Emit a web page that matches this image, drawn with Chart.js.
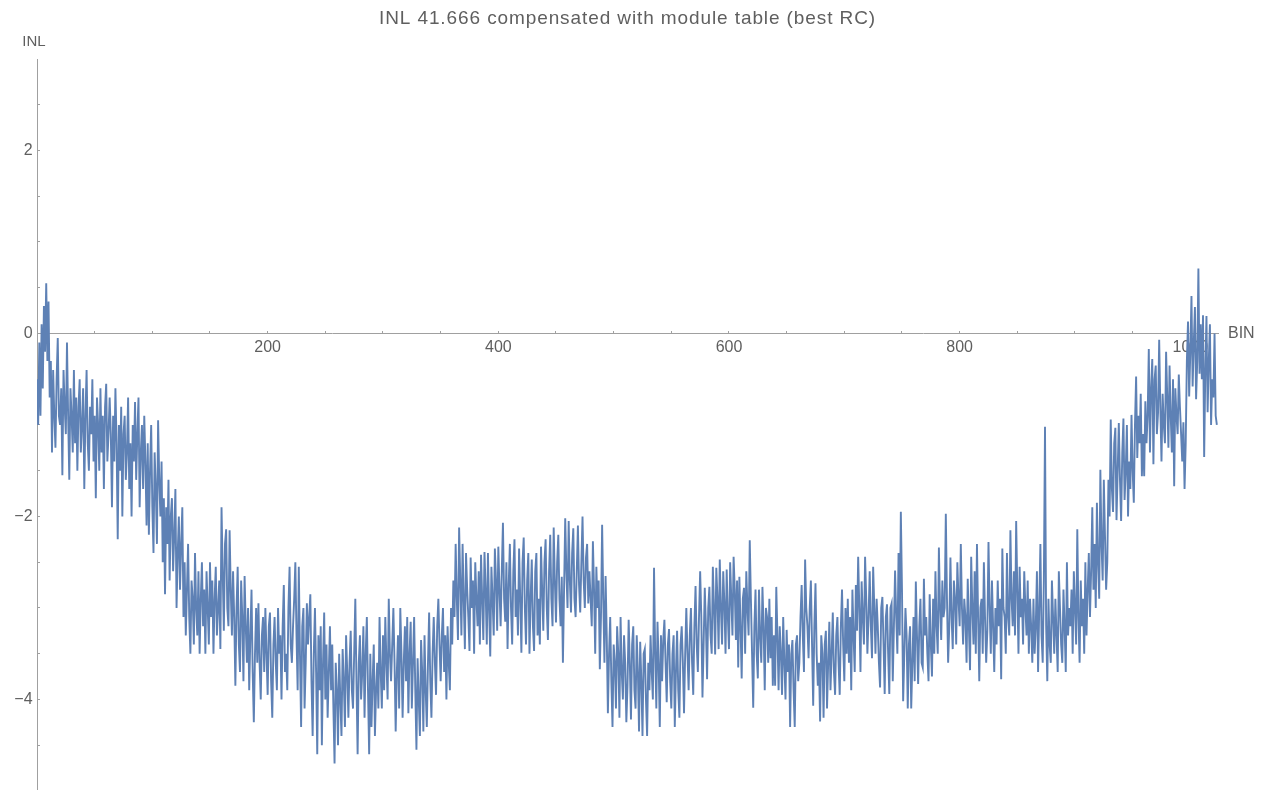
<!DOCTYPE html>
<html>
<head>
<meta charset="utf-8">
<script src="https://cdn.jsdelivr.net/npm/chart.js@4.4.1/dist/chart.umd.min.js"></script>
<style>
  html, body { margin: 0; padding: 0; background: #fff; }
  #wrap { width: 1266px; height: 790px; }
</style>
</head>
<body>
<div id="wrap"><canvas id="inlChart" width="1266" height="790"></canvas></div>
<script>
// Подписи и оси
const titleText = 'INL 41.666 compensated with module table (best RC)';
const xAxisName = 'BIN';
const yAxisName = 'INL';

// Деления осей
const xTickValues = [50, 100, 150, 200, 250, 300, 350, 400, 450, 500, 550, 600, 650, 700, 750, 800, 850, 900, 950, 1000];
const xTickLabels = [200, 400, 600, 800, 1000];
const yTickValues = [-4.5, -4, -3.5, -3, -2.5, -2, -1.5, -1, -0.5, 0, 0.5, 1, 1.5, 2, 2.5];
const yTickLabels = [-4, -2, 0, 2];

// INL по бинам 0..1023
const inlValues = [
  -0.5,-1.0,-0.1,-0.9,0.1,-0.6,0.3,-0.2,0.55,-0.3,0.35,-0.7,-0.3,-1.3,-0.4,-0.9,
  -1.25,-0.5,-0.05,-0.9,-1.0,-0.6,-1.55,-0.4,-0.8,-1.1,-0.1,-0.9,-1.6,-0.6,-0.9,-1.3,
  -0.4,-1.2,-0.7,-1.5,-0.8,-0.5,-1.3,-1.0,-0.6,-1.7,-0.9,-0.4,-1.2,-1.5,-0.8,-1.1,
  -0.5,-1.4,-0.9,-1.8,-0.7,-1.0,-1.5,-0.6,-1.3,-0.9,-1.7,-0.8,-0.55,-1.4,-1.1,-0.7,
  -1.1,-1.9,-0.9,-1.4,-0.6,-1.2,-2.25,-1.0,-1.5,-0.8,-2.0,-1.1,-0.9,-1.6,-1.3,-0.7,
  -1.7,-1.2,-2.0,-1.0,-1.4,-0.75,-1.6,-1.1,-0.7,-1.9,-1.3,-1.0,-1.7,-0.9,-1.4,-2.1,
  -1.2,-2.2,-1.5,-1.0,-1.9,-2.4,-1.3,-1.7,-2.3,-0.95,-1.6,-2.0,-1.4,-2.5,-1.8,-2.85,
  -1.9,-2.3,-1.6,-2.7,-2.0,-1.8,-2.6,-2.2,-1.7,-3.0,-2.4,-2.0,-2.8,-2.3,-1.9,-3.1,
  -2.5,-3.3,-2.8,-2.3,-3.1,-3.5,-2.7,-2.9,-3.4,-2.4,-3.0,-3.3,-2.6,-3.5,-2.9,-2.5,
  -3.2,-2.8,-3.5,-2.6,-3.0,-3.4,-2.5,-3.1,-2.7,-3.5,-2.9,-2.55,-3.3,-3.0,-2.7,-3.45,
  -1.9,-2.6,-3.25,-2.3,-2.14,-3.0,-3.2,-2.15,-2.8,-3.3,-2.6,-3.1,-3.85,-3.0,-2.55,-3.4,
  -3.7,-2.7,-3.1,-3.8,-2.65,-3.2,-3.6,-3.0,-3.9,-3.3,-2.8,-3.7,-4.25,-3.5,-3.0,-3.6,
  -2.95,-3.6,-4.0,-3.3,-3.1,-3.7,-3.0,-3.5,-3.95,-3.2,-3.05,-3.8,-4.2,-3.4,-3.1,-3.6,
  -3.9,-3.0,-3.5,-3.3,-4.0,-3.2,-2.75,-3.7,-3.5,-3.9,-3.0,-2.55,-3.4,-3.6,-3.2,-2.9,
  -2.5,-3.3,-3.9,-2.55,-3.5,-4.3,-3.2,-3.0,-4.1,-3.6,-2.95,-3.4,-3.1,-2.85,-3.8,-4.4,
  -3.5,-3.0,-3.7,-4.6,-3.3,-3.9,-3.2,-4.5,-3.6,-3.05,-4.0,-3.4,-4.2,-3.7,-3.2,-3.9,
  -3.4,-4.1,-4.7,-3.6,-3.9,-4.5,-3.5,-4.0,-4.4,-3.45,-3.8,-4.3,-3.3,-3.7,-4.2,-3.6,
  -3.25,-3.9,-4.1,-3.5,-2.9,-3.8,-4.6,-3.6,-3.3,-4.0,-3.7,-3.2,-4.2,-3.5,-3.1,-3.9,
  -4.6,-3.5,-4.3,-3.8,-3.4,-4.4,-3.9,-3.6,-4.1,-3.1,-3.7,-4.1,-3.3,-3.9,-3.1,-3.6,
  -4.0,-2.9,-3.5,-3.8,-3.4,-3.0,-3.6,-4.35,-3.7,-3.3,-4.1,-3.0,-3.5,-4.2,-3.6,-3.2,
  -3.8,-3.1,-4.15,-3.5,-3.15,-4.1,-3.6,-3.1,-3.9,-4.55,-3.55,-4.0,-4.4,-3.35,-3.7,-4.35,
  -3.3,-3.9,-4.3,-3.6,-3.05,-3.8,-4.2,-3.5,-3.1,-3.6,-3.95,-3.2,-2.9,-3.4,-3.8,-3.3,
  -3.0,-3.7,-3.3,-4.0,-3.2,-3.6,-3.9,-3.0,-3.4,-2.7,-3.1,-2.3,-2.9,-3.35,-2.12,-2.7,
  -3.3,-2.3,-2.9,-3.45,-2.4,-2.8,-3.1,-3.47,-2.45,-3.0,-2.7,-3.5,-2.5,-2.9,-3.2,-2.6,
  -3.4,-2.42,-2.9,-3.35,-2.39,-2.8,-3.4,-2.4,-3.0,-3.53,-2.55,-2.9,-3.3,-2.35,-2.7,-3.25,
  -2.33,-2.8,-3.2,-2.6,-2.07,-2.9,-3.15,-2.5,-3.45,-2.75,-2.3,-3.0,-3.4,-2.6,-2.25,-3.1,
  -2.8,-3.3,-2.35,-2.9,-3.49,-2.5,-2.23,-3.0,-3.4,-2.7,-2.4,-3.5,-2.9,-2.47,-3.2,-3.47,
  -2.6,-2.4,-3.3,-2.9,-3.4,-2.33,-2.8,-3.25,-2.5,-2.25,-3.0,-3.35,-2.6,-2.2,-2.9,-3.2,
  -2.12,-2.7,-3.16,-2.5,-2.2,-2.9,-3.2,-2.66,-3.6,-2.8,-2.02,-2.6,-3.0,-2.05,-2.7,-3.05,
  -2.4,-2.13,-2.9,-3.1,-2.6,-2.1,-2.75,-3.05,-2.5,-2.0,-2.7,-3.0,-2.45,-2.3,-2.95,-2.6,
  -2.9,-3.2,-2.27,-2.8,-3.5,-2.55,-3.0,-2.7,-3.67,-3.1,-2.09,-2.9,-3.6,-2.65,-3.3,-4.15,
  -3.5,-3.1,-3.8,-4.3,-3.4,-3.6,-4.1,-3.2,-3.5,-4.2,-3.1,-3.7,-4.0,-3.3,-3.6,-4.25,
  -3.85,-3.13,-3.6,-4.22,-3.4,-3.2,-3.9,-4.1,-3.3,-3.7,-4.35,-3.37,-3.8,-4.4,-3.5,-3.45,
  -4.0,-4.4,-3.6,-3.9,-3.3,-3.7,-4.0,-2.56,-3.5,-4.1,-3.15,-3.6,-4.3,-3.3,-3.8,-3.35,
  -3.13,-3.6,-4.03,-3.4,-3.23,-3.8,-4.1,-3.5,-3.3,-4.3,-3.7,-3.25,-3.9,-4.2,-3.4,-3.2,
  -3.6,-4.15,-3.5,-3.0,-3.5,-3.9,-3.3,-3.0,-3.6,-3.95,-3.2,-2.76,-3.4,-3.7,-3.1,-2.6,
  -3.1,-3.98,-3.4,-2.78,-3.2,-3.78,-3.0,-2.77,-3.3,-3.5,-2.55,-3.0,-3.51,-2.56,-2.9,-3.45,
  -2.47,-3.0,-3.4,-2.6,-2.95,-3.5,-2.58,-3.1,-3.45,-2.5,-2.9,-3.3,-2.44,-2.8,-3.35,-2.7,
  -3.65,-2.66,-3.2,-3.77,-2.9,-2.78,-3.5,-2.6,-3.0,-3.3,-2.26,-2.9,-3.5,-4.09,-3.2,-2.8,
  -3.5,-3.77,-2.8,-3.3,-3.6,-2.77,-3.2,-3.9,-3.0,-3.1,-3.6,-2.9,-3.55,-3.1,-3.85,-3.3,
  -3.85,-2.77,-3.3,-3.9,-3.2,-3.5,-3.95,-3.1,-3.6,-4.0,-3.24,-3.7,-3.4,-4.3,-3.5,-3.35,
  -3.9,-4.3,-3.4,-3.3,-3.8,-3.6,-3.1,-2.75,-3.3,-3.7,-2.47,-3.0,-3.2,-3.55,-3.0,-2.7,
  -3.4,-4.07,-3.2,-2.73,-3.5,-3.85,-3.6,-4.24,-3.3,-3.5,-4.2,-3.4,-3.25,-4.1,-3.6,-3.15,
  -3.9,-3.5,-3.05,-3.7,-3.95,-3.3,-3.1,-3.6,-3.95,-3.2,-2.8,-3.4,-3.8,-3.0,-3.5,-2.9,
  -3.6,-3.1,-3.9,-2.8,-3.3,-3.7,-2.75,-3.25,-2.44,-3.0,-3.7,-2.71,-3.1,-3.4,-2.44,-2.9,
  -3.5,-3.1,-2.6,-3.2,-3.55,-2.55,-3.0,-3.5,-2.9,-3.2,-3.6,-3.87,-3.0,-2.88,-3.4,-3.94,
  -3.1,-2.96,-3.5,-3.94,-3.0,-2.95,-3.8,-3.2,-2.59,-3.1,-3.5,-2.4,-3.3,-1.95,-2.8,-4.02,
  -3.5,-3.0,-3.3,-4.1,-3.4,-3.2,-4.1,-3.6,-3.1,-3.8,-2.71,-3.3,-3.83,-3.2,-2.9,-3.6,
  -3.65,-2.68,-3.3,-3.1,-3.5,-3.8,-2.85,-3.4,-3.75,-2.9,-3.5,-2.6,-3.2,-3.5,-2.34,-3.0,
  -3.35,-2.7,-3.1,-3.0,-1.97,-2.9,-3.6,-3.2,-2.45,-3.1,-3.45,-2.7,-2.9,-3.4,-2.5,-2.9,
  -3.2,-2.3,-3.0,-3.4,-2.9,-3.1,-3.6,-2.68,-3.2,-3.68,-2.44,-3.0,-3.4,-2.6,-3.5,-2.3,
  -3.1,-3.8,-3.0,-2.9,-3.5,-2.5,-3.1,-3.6,-3.25,-2.28,-3.0,-3.5,-2.7,-3.2,-3.7,-3.0,
  -3.4,-2.7,-3.2,-2.9,-3.78,-2.35,-3.0,-3.1,-3.5,-2.4,-3.1,-3.3,-2.15,-2.9,-3.2,-2.6,
  -3.3,-2.05,-2.8,-3.5,-2.55,-3.1,-2.9,-3.4,-2.6,-3.0,-3.3,-2.7,-3.5,-2.9,-3.2,-3.6,
  -2.9,-3.5,-3.2,-2.6,-3.7,-3.0,-2.3,-3.3,-3.6,-2.7,-1.02,-3.2,-3.8,-2.9,-3.4,-3.6,
  -2.7,-3.1,-3.5,-2.9,-3.3,-3.7,-2.6,-3.0,-3.4,-3.6,-2.8,-3.2,-3.7,-2.5,-3.3,-3.0,
  -3.2,-2.8,-3.5,-2.6,-3.0,-3.4,-2.14,-3.1,-3.6,-2.7,-3.2,-2.9,-3.5,-2.5,-3.3,-2.8,
  -2.4,-3.1,-2.6,-1.9,-2.8,-2.3,-3.0,-1.85,-2.5,-2.9,-1.49,-2.3,-2.7,-1.6,-2.2,-2.8,
  -2.5,-1.6,-2.0,-0.94,-1.7,-1.95,-1.2,-1.03,-2.04,-1.5,-0.98,-1.6,-2.05,-1.3,-0.93,-1.82,
  -1.5,-1.0,-2.0,-1.4,-1.7,-0.89,-1.5,-1.85,-1.0,-0.47,-1.36,-0.9,-1.2,-0.66,-1.56,-1.1,
  -1.56,-0.74,-1.2,-0.9,-0.17,-1.3,-0.6,-0.28,-1.43,-0.5,-0.35,-1.1,-0.87,-0.07,-0.8,-1.4,
  -0.66,-1.0,-1.2,-0.2,-0.7,-1.25,-0.35,-0.9,-1.3,-0.5,-1.67,-0.6,-0.9,-1.1,-0.45,-0.8,
  -1.1,-1.4,-0.97,-1.7,-1.2,-0.3,0.13,-0.69,-0.2,0.41,-0.58,-0.1,0.29,-0.72,-0.3,0.71,
  -0.44,0.1,-0.5,0.2,-1.35,-0.4,0.19,-0.86,-0.3,0.1,-1.0,-0.5,-0.7,0.0,-0.9,-1.0
];

const axisColor = '#a0a0a0';
const textColor = '#5f5f5f';
const lineColor = '#5e81b5';
const fontFamily = '"Liberation Sans", Arial, sans-serif';

function fmtNum(v) {
    return v < 0 ? '\u2212' + Math.abs(v) : String(v);
}

// Подписи: заголовок и имена осей
const labelsPlugin = {
    id: 'mmaLabels',
    afterDraw(chart) {
        const ctx = chart.ctx;
        const area = chart.chartArea;
        const xs = chart.scales.x;
        const ys = chart.scales.y;
        ctx.save();
        ctx.fillStyle = textColor;
        ctx.textBaseline = 'middle';
        ctx.font = '19px ' + fontFamily;
        ctx.letterSpacing = '0.9px';
        ctx.textAlign = 'center';
        ctx.fillText(titleText, (area.left + area.right) / 2, 19);
        ctx.letterSpacing = '0px';
        ctx.font = '15px ' + fontFamily;
        ctx.textAlign = 'center';
        ctx.fillText(yAxisName, xs.getPixelForValue(0) - 3, 42);
        ctx.font = '16px ' + fontFamily;
        ctx.textAlign = 'left';
        ctx.fillText(xAxisName, area.right + 10, ys.getPixelForValue(0));
        ctx.restore();
    }
};

document.addEventListener('DOMContentLoaded', function() {
    const ctx = document.getElementById('inlChart').getContext('2d');

    new Chart(ctx, {
        type: 'line',
        data: {
            datasets: [{
                label: 'INL',
                data: inlValues.map((v, i) => ({ x: i, y: v })),
                borderColor: lineColor,
                borderWidth: 1.9,
                pointRadius: 0,
                tension: 0,
                fill: false
            }]
        },
        options: {
            responsive: false,
            animation: false,
            layout: { padding: { left: 37, right: 48, top: 59, bottom: 0 } },
            plugins: {
                legend: { display: false },
                title: { display: false },
                tooltip: { enabled: false }
            },
            scales: {
                x: {
                    type: 'linear',
                    axis: 'x',
                    position: { y: 0 },
                    min: 0,
                    max: 1024,
                    afterBuildTicks: (scale) => { scale.ticks = xTickValues.map(v => ({ value: v })); },
                    afterFit: (scale) => { scale.paddingLeft = 0; scale.paddingRight = 0; },
                    grid: { drawOnChartArea: false, drawTicks: true, tickLength: -3, color: axisColor },
                    border: { display: true, color: axisColor, width: 1 },
                    ticks: {
                        color: textColor,
                        font: { family: fontFamily, size: 16 },
                        padding: 8,
                        maxRotation: 0,
                        autoSkip: false,
                        callback: (v) => xTickLabels.includes(v) ? String(v) : ''
                    }
                },
                y: {
                    type: 'linear',
                    axis: 'y',
                    position: { x: 0 },
                    min: -4.99,
                    max: 3,
                    afterBuildTicks: (scale) => { scale.ticks = yTickValues.map(v => ({ value: v })); },
                    afterFit: (scale) => { scale.paddingTop = 0; scale.paddingBottom = 0; },
                    grid: { drawOnChartArea: false, drawTicks: true, tickLength: -3, color: axisColor },
                    border: { display: true, color: axisColor, width: 1 },
                    ticks: {
                        color: textColor,
                        font: { family: fontFamily, size: 16 },
                        padding: 5,
                        autoSkip: false,
                        callback: (v) => yTickLabels.includes(v) ? fmtNum(v) + ' ' : ''
                    }
                }
            }
        },
        plugins: [labelsPlugin]
    });
});
</script>
</body>
</html>
